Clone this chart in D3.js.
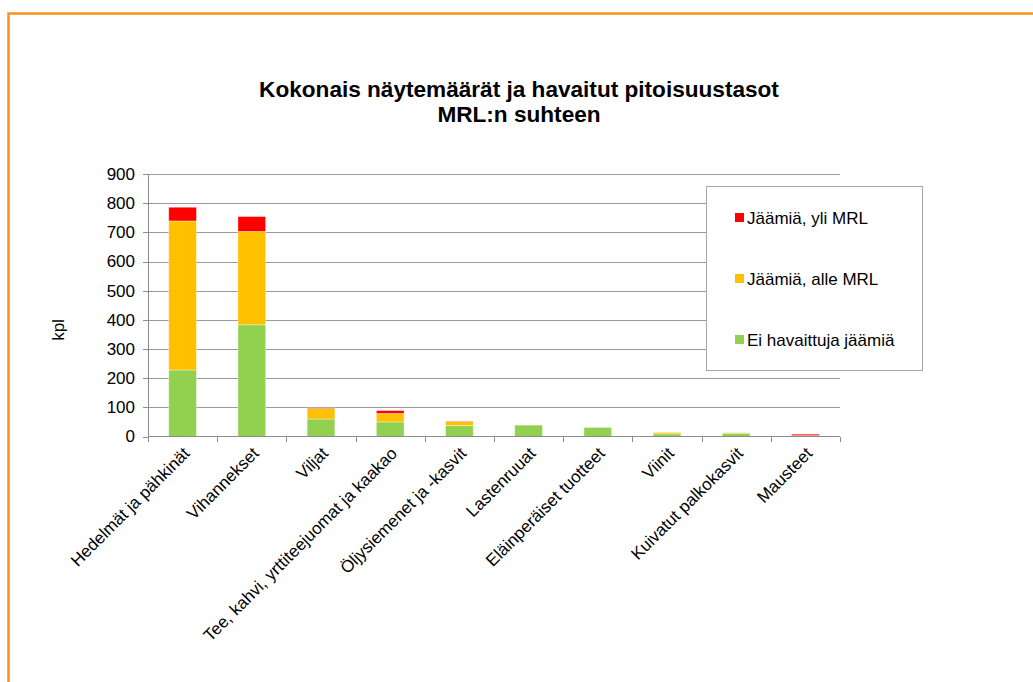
<!DOCTYPE html>
<meta charset="utf-8">
<style>
body { margin: 0; background: #fff; font-family: Arial, 'Liberation Sans', sans-serif; }
.grid line { stroke: #9b9b9b; stroke-width: 1; shape-rendering: crispEdges; }
.grid path { stroke-width: 0; }
.axis path, .axis line { stroke: #8c8c8c; stroke-width: 1; shape-rendering: crispEdges; fill: none; }
.axis text { fill: #000; font-size: 17px; }
</style>
<body>
<script src="https://cdn.jsdelivr.net/npm/d3@7"></script>
<script>
// data
var categories = ["Hedelmät ja pähkinät", "Vihannekset", "Viljat", "Tee, kahvi, yrttiteejuomat ja kaakao",
  "Öljysiemenet ja -kasvit", "Lastenruuat", "Eläinperäiset tuotteet", "Viinit", "Kuivatut palkokasvit", "Mausteet"];
var eiJaamia   = [228, 383, 60, 50, 38, 39, 31, 9, 11, 2];
var alleMRL    = [511, 320, 36, 29, 14, 0, 0, 5, 2, 1];
var yliMRL     = [47, 51, 2, 10, 1, 0, 0, 0, 0, 5];
var seriesNames = ["Ei havaittuja jäämiä", "Jäämiä, alle MRL", "Jäämiä, yli MRL"];
var colors = ["#92d050", "#ffc000", "#ff0000"];
var yTicks = [0, 100, 200, 300, 400, 500, 600, 700, 800, 900];

var W = 1033, H = 682;
var plot = {left: 148, right: 840, top: 174, bottom: 436.5};

var svg = d3.select("body").append("svg")
  .attr("width", W).attr("height", H);

// orange frame
svg.append("rect")
  .attr("x", 8.5).attr("y", 13.5)
  .attr("width", 1040).attr("height", 700)
  .attr("fill", "#fff")
  .attr("stroke", "#f7941d")
  .attr("stroke-width", 2.5);

var x = d3.scaleBand().domain(categories).range([plot.left, plot.right]).padding(0);
var y = d3.scaleLinear().domain([0, 900]).range([plot.bottom, plot.top]);

// gridlines
svg.append("g")
  .attr("class", "grid")
  .attr("transform", "translate(" + plot.left + ",0)")
  .call(d3.axisLeft(y).tickValues(yTicks.slice(1)).tickSize(-(plot.right - plot.left)).tickFormat(""));

// stacked data
var table = categories.map(function(c, i) {
  return {cat: c, s0: eiJaamia[i], s1: alleMRL[i], s2: yliMRL[i]};
});
var stack = d3.stack().keys(["s0", "s1", "s2"])(table);

var barW = x.bandwidth() * 0.4;
svg.append("g").selectAll("g")
  .data(stack)
  .join("g")
    .attr("fill", function(d, i) { return colors[i]; })
  .selectAll("rect")
  .data(function(d) { return d; })
  .join("rect")
    .attr("x", function(d) { return x(d.data.cat) + (x.bandwidth() - barW) / 2; })
    .attr("y", function(d) { return y(d[1]); })
    .attr("width", barW)
    .attr("height", function(d) { return Math.max(0, y(d[0]) - y(d[1])); })
    .attr("stroke", "rgba(255,255,255,0.45)")
    .attr("stroke-width", 0.8);

// y axis
svg.append("g")
  .attr("class", "axis")
  .attr("transform", "translate(" + plot.left + ",0)")
  .call(d3.axisLeft(y).tickValues(yTicks).tickSize(5).tickPadding(8).tickSizeOuter(0));

// x axis with ticks at band edges
var xAxisG = svg.append("g")
  .attr("class", "axis")
  .attr("transform", "translate(0," + plot.bottom + ")");
xAxisG.append("line")
  .attr("x1", plot.left).attr("x2", plot.right)
  .attr("y1", 0).attr("y2", 0);
var edges = categories.map(function(c) { return x(c); }).concat([plot.right]);
xAxisG.selectAll("line.tk")
  .data(edges)
  .join("line")
    .attr("class", "tk")
    .attr("x1", function(d) { return Math.round(d) + 0.5; })
    .attr("x2", function(d) { return Math.round(d) + 0.5; })
    .attr("y1", 0).attr("y2", 5);
xAxisG.selectAll("text")
  .data(categories)
  .join("text")
    .attr("text-anchor", "end")
    .attr("font-size", "17px")
    .attr("transform", function(d) {
      return "translate(" + (x(d) + x.bandwidth() / 2 + 8) + ",18) rotate(-45)";
    })
    .text(function(d) { return d; });

// y label
svg.append("text")
  .attr("transform", "translate(64,330) rotate(-90)")
  .attr("text-anchor", "middle")
  .attr("font-size", "17px")
  .text("kpl");

// title
var title = svg.append("text")
  .attr("text-anchor", "middle")
  .attr("font-size", "22.6px")
  .attr("font-weight", "bold");
title.append("tspan").attr("x", 519).attr("y", 97).text("Kokonais näytemäärät ja havaitut pitoisuustasot");
title.append("tspan").attr("x", 519).attr("y", 122).text("MRL:n suhteen");

// legend
var lg = svg.append("g").attr("transform", "translate(706,186)");
lg.append("rect")
  .attr("x", 0.5).attr("y", 0.5)
  .attr("width", 216).attr("height", 184)
  .attr("fill", "#fff")
  .attr("stroke", "#a6a6a6");
var legendOrder = [2, 1, 0];
legendOrder.forEach(function(si, k) {
  var yy = 32 + k * 61;
  lg.append("rect")
    .attr("x", 29).attr("y", yy - 5)
    .attr("width", 9).attr("height", 9)
    .attr("fill", colors[si]);
  lg.append("text")
    .attr("x", 41).attr("y", yy + 6)
    .attr("font-size", "17px")
    .text(seriesNames[si]);
});
</script>
</body>
